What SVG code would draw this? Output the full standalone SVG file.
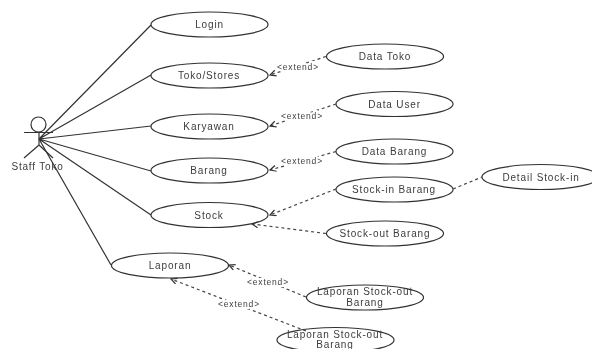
<svg xmlns="http://www.w3.org/2000/svg" width="592" height="349" viewBox="0 0 592 349">
<style>
.n ellipse{fill:#fff;stroke:#333;stroke-width:1.2}
text{font-family:"Liberation Sans",Arial,sans-serif;fill:#3c3c3c;text-anchor:middle}
.t{font-size:10px;letter-spacing:.85px}
.l{font-size:8.500px;letter-spacing:.8px;paint-order:stroke;stroke:#fff;stroke-width:4px}
.a{stroke:#333;stroke-width:1.200;fill:none}
.d{stroke:#444;stroke-width:1.200;fill:none;stroke-dasharray:3 3;marker-end:url(#ah)}
.p{stroke:#444;stroke-width:1.200;fill:none;stroke-dasharray:3 3}
</style>
<defs>
<marker id="ah" markerWidth="8" markerHeight="8" refX="7" refY="3.500" orient="auto" markerUnits="userSpaceOnUse"><path d="M1 .5L7 3.500L1 6.500" fill="none" stroke="#333" stroke-width="1.200"/></marker>
<filter id="b" x="0" y="0" width="592" height="349" filterUnits="userSpaceOnUse"><feGaussianBlur stdDeviation="0.45"/></filter>
</defs>
<rect width="592" height="349" fill="#fff"/>
<g filter="url(#b)">
<g id="login" class="n"><ellipse cx="209.500" cy="24.500" rx="58.500" ry="12.500"/><text class="t" x="209.500" y="28">Login</text></g>
<g id="toko" class="n"><ellipse cx="209.500" cy="75.500" rx="58.500" ry="12.500"/><text class="t" x="209" y="79">Toko/Stores</text></g>
<g id="karyawan" class="n"><ellipse cx="209.500" cy="126.500" rx="58.500" ry="12.500"/><text class="t" x="209" y="130">Karyawan</text></g>
<g id="barang" class="n"><ellipse cx="209.500" cy="170.500" rx="58.500" ry="12.500"/><text class="t" x="209" y="174">Barang</text></g>
<g id="stock" class="n"><ellipse cx="209.500" cy="215" rx="58.500" ry="12.500"/><text class="t" x="209" y="218.500">Stock</text></g>
<g id="laporan" class="n"><ellipse cx="170" cy="265.500" rx="58.500" ry="12.500"/><text class="t" x="170" y="269">Laporan</text></g>
<g id="data-toko" class="n"><ellipse cx="385" cy="56.500" rx="58.500" ry="12.500"/><text class="t" x="385" y="60">Data Toko</text></g>
<g id="data-user" class="n"><ellipse cx="394.500" cy="104" rx="58.500" ry="12.500"/><text class="t" x="394.500" y="107.500">Data User</text></g>
<g id="data-barang" class="n"><ellipse cx="394.500" cy="151.500" rx="58.500" ry="12.500"/><text class="t" x="394.500" y="155">Data Barang</text></g>
<g id="stock-in" class="n"><ellipse cx="394.500" cy="189.500" rx="58.500" ry="12.500"/><text class="t" x="394" y="193">Stock-in Barang</text></g>
<g id="stock-out" class="n"><ellipse cx="385" cy="233.500" rx="58.500" ry="12.500"/><text class="t" x="385" y="237">Stock-out Barang</text></g>
<g id="detail" class="n"><ellipse cx="540.500" cy="177" rx="58.500" ry="12.500"/><text class="t" x="541" y="180.500">Detail Stock-in</text></g>
<g id="lap-1" class="n"><ellipse cx="365" cy="297.500" rx="58.500" ry="12.500"/><text class="t" x="365" y="295">Laporan Stock-out</text><text class="t" x="365" y="306">Barang</text></g>
<g id="lap-2" class="n"><ellipse cx="335.500" cy="340" rx="58.500" ry="12.500"/><text class="t" x="335" y="337.500">Laporan Stock-out</text><text class="t" x="335" y="348">Barang</text></g>
<g id="actor"><text class="t" x="37.500" y="170" style="letter-spacing:.8px">Staff Toko</text><circle class="a" cx="38.500" cy="124.500" r="7.500"/><path class="a" d="M24 132.500H53M39 132V145M39 145L24 158M39 145L53 158"/></g>
<g id="connectors">
<path class="a" d="M39 139L151 25M39 139L151 75M39 139L151 126M39 139L151 171M39 139L151 215M39 139L111 265"/>
<path class="d" d="M326 56.500L270 75"/>
<path class="d" d="M336 104L270 126"/>
<path class="d" d="M336 151.500L270 170"/>
<path class="d" d="M336 189L270 215"/>
<path class="d" d="M326 233.500L252 224"/>
<path class="p" d="M453 189L482 177"/>
<path class="d" d="M306 297L229 265"/>
<path class="d" d="M306 331L171 279"/>
</g>
<g id="labels">
<text class="l" x="298" y="69.500">&lt;extend&gt;</text>
<text class="l" x="302" y="118.500">&lt;extend&gt;</text>
<text class="l" x="302" y="164">&lt;extend&gt;</text>
<text class="l" x="268" y="284.500">&lt;extend&gt;</text>
<text class="l" x="239" y="307">&lt;extend&gt;</text>
</g>
</g>
</svg>
